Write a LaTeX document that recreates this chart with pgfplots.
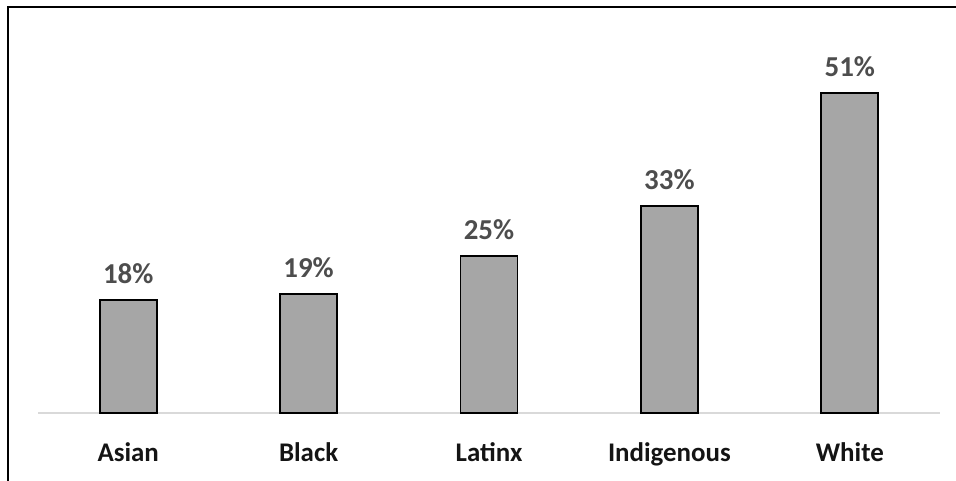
\documentclass[border=0pt]{standalone}
\usepackage{pgfplots}
\pgfplotsset{compat=1.18}
\usepackage{fontspec}
\setmainfont{Carlito}
\definecolor{barfill}{HTML}{A6A6A6}
\definecolor{valtext}{HTML}{4D4D4D}
\definecolor{cattext}{HTML}{141414}
\definecolor{axisgray}{HTML}{D9D9D9}
\begin{document}
\begin{tikzpicture}
\path[use as bounding box] (0,0) rectangle (956bp,481bp);
% chart frame (left and top edges)
\draw[line width=2.5bp, line cap=rect] (8bp,-2bp) -- (8bp,474bp) -- (958bp,474bp);
\begin{axis}[
  at={(38bp,68bp)}, anchor=south west,
  scale only axis,
  width=902bp, height=364bp,
  xmin=-0.5, xmax=4.5,
  ymin=0, ymax=58,
  clip=false,
  axis x line=bottom,
  axis y line=none,
  x axis line style={draw=axisgray, line width=2bp, -},
  xtick=data,
  xticklabels={Asian,Black,Latinx,Indigenous,White},
  xtick style={draw=none},
  xticklabel style={font=\fontsize{27}{32}\selectfont\bfseries, text=cattext, yshift=-22bp},
  ytick=\empty,
  /pgf/number format/assume math mode=true,
  nodes near coords={\pgfmathprintnumber{\pgfplotspointmeta}\%},
  nodes near coords style={font=\fontsize{29}{34}\selectfont\bfseries, text=valtext, yshift=12bp},
  ybar, bar width=57bp,
]
\addplot[fill=barfill, draw=black, line width=1.8bp] coordinates {
  (0,18) (1,19) (2,25) (3,33) (4,51)
};
\end{axis}
\end{tikzpicture}
\end{document}
